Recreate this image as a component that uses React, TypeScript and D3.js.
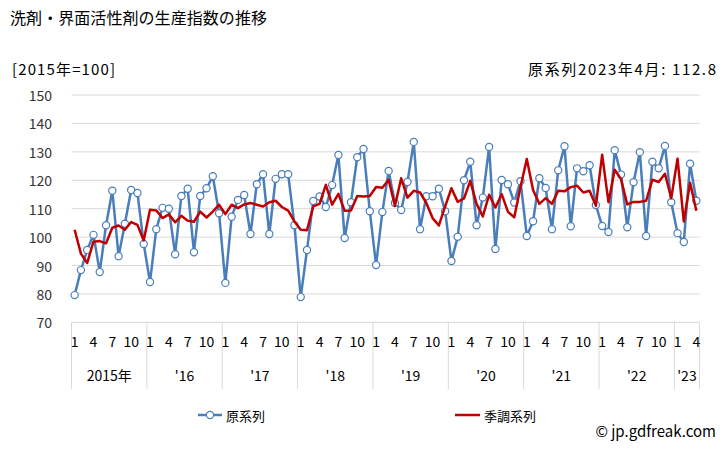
import React from "react";
import * as d3 from "d3";

const rawSeries = [79.6,88.4,95.5,100.8,87.7,104.2,116.3,93.3,104.7,116.6,115.5,97.6,
84.2,102.8,110.3,110.0,94.0,114.5,117.0,94.7,114.5,117.2,121.4,108.4,
83.9,107.2,113.1,114.8,101.1,118.6,122.1,101.1,120.5,122.1,122.1,104.2,
78.9,95.5,112.7,114.3,110.6,118.3,128.9,99.7,112.3,128.1,131.0,109.1,
90.2,108.8,123.3,112.0,109.5,119.4,133.5,102.8,114.4,114.4,117.0,109.1,
91.6,100.1,120.0,126.5,104.2,113.9,131.7,95.8,120.1,118.6,112.2,119.7,
100.4,105.6,120.7,117.3,102.8,123.5,132.0,103.8,124.2,123.2,125.3,111.3,
103.9,101.8,130.6,122.0,103.5,119.3,129.9,100.4,126.5,124.2,132.1,112.3,
101.4,98.3,125.8,112.8];

const saSeries = [102.6,94.2,90.9,98.4,98.6,97.8,103.3,104.1,102.6,105.3,104.3,98.8,
109.6,109.4,106.7,108.0,105.2,107.5,105.8,105.4,109.0,106.9,109.0,111.4,
108.1,111.4,110.2,111.5,112.0,111.4,110.8,112.3,112.8,110.6,109.3,105.5,
102.6,102.4,110.8,111.7,118.4,111.4,115.2,109.3,109.4,114.5,114.3,114.5,
117.6,117.4,120.2,111.0,120.7,113.9,116.3,115.7,112.0,106.7,104.1,110.8,
117.2,112.4,113.6,119.8,111.7,107.3,114.9,110.4,115.1,108.9,107.0,117.6,
127.5,116.6,111.7,113.7,111.7,116.3,116.1,117.6,118.1,115.7,116.3,111.0,
129.0,112.3,123.7,120.4,111.5,112.4,112.4,112.8,120.2,119.4,122.3,113.7,
127.6,105.5,119.1,109.3];

const yearLabels = ["2015年", "'16", "'17", "'18", "'19", "'20", "'21", "'22", "'23"];
const monthTicks = [1, 4, 7, 10];
const yTicks = [70, 80, 90, 100, 110, 120, 130, 140, 150];

const FONT = "'Noto Sans CJK JP', 'Noto Sans', sans-serif";
const BLUE = "#4a7ebb";
const RED = "#c00000";
const GRID = "#d9d9d9";

export default function App() {
  const W = 728, H = 450;
  const left = 71.5, right = 699.5, top = 95, bottom = 322.4;
  const idx = rawSeries.map((_, i) => i);
  const x = d3.scaleBand<number>().domain(idx).range([left, right]);
  const bw = x.bandwidth();
  const cx = (i: number) => (x(i) as number) + bw / 2;
  const y = d3.scaleLinear().domain([70, 150]).range([bottom, top]);
  const line = d3.line<number>().x((_, i) => cx(i)).y((d) => y(d));

  const years = yearLabels.map((label, k) => {
    const start = k * 12;
    const end = Math.min(start + 12, rawSeries.length);
    const x0 = x(start) as number;
    const x1 = end >= rawSeries.length ? right : (x(end) as number);
    return { label, start, end, x0, x1 };
  });

  return (
    <svg width={W} height={H} style={{ position: "absolute", left: 0, top: 0, fontFamily: FONT }}>
      <rect width={W} height={H} fill="#fff" />
      <text x={10} y={24} fontSize={16} fill="#000" textLength={257} lengthAdjust="spacing">洗剤・界面活性剤の生産指数の推移</text>
      <text x={12} y={75} fontSize={15} fill="#000" textLength={103} lengthAdjust="spacing">[2015年=100]</text>
      <text x={528} y={75} fontSize={15} fill="#000" textLength={188} lengthAdjust="spacing">原系列2023年4月: 112.8</text>

      {yTicks.map((t) => (
        <g key={t}>
          <line x1={left} x2={right} y1={y(t)} y2={y(t)} stroke={GRID} strokeWidth={1} />
          <text x={52} y={y(t)} fontSize={14} textAnchor="end" dominantBaseline="central" fill="#333">{t}</text>
        </g>
      ))}

      {years.map((yr) => (
        <line key={"s" + yr.label} x1={yr.x0} x2={yr.x0} y1={bottom} y2={389} stroke={GRID} strokeWidth={1} />
      ))}
      <line x1={right} x2={right} y1={bottom} y2={389} stroke={GRID} strokeWidth={1} />

      {idx.filter((i) => monthTicks.includes((i % 12) + 1)).map((i) => (
        <text key={"m" + i} x={cx(i)} y={341} fontSize={14} textAnchor="middle" dominantBaseline="central" fill="#000">
          {(i % 12) + 1}
        </text>
      ))}
      {years.map((yr) => (
        <text key={"y" + yr.label} x={(yr.x0 + yr.x1) / 2} y={375} fontSize={14} textAnchor="middle" dominantBaseline="central" fill="#000">
          {yr.label}
        </text>
      ))}

      <path d={line(rawSeries) || ""} fill="none" stroke={BLUE} strokeWidth={2.5} strokeLinejoin="round" />
      {rawSeries.map((v, i) => (
        <circle key={"c" + i} cx={cx(i)} cy={y(v)} r={3.6} fill="#fff" stroke={BLUE} strokeWidth={1.2} />
      ))}
      <path d={line(saSeries) || ""} fill="none" stroke={RED} strokeWidth={2.5} strokeLinejoin="round" />

      <g>
        <line x1={198} x2={222} y1={415} y2={415} stroke={BLUE} strokeWidth={2.5} />
        <circle cx={210} cy={415} r={3.6} fill="#fff" stroke={BLUE} strokeWidth={1.2} />
        <text x={226} y={415} fontSize={13} dominantBaseline="central" fill="#000">原系列</text>
        <line x1={455} x2={480} y1={415} y2={415} stroke={RED} strokeWidth={2.5} />
        <text x={484} y={415} fontSize={13} dominantBaseline="central" fill="#000">季調系列</text>
      </g>
      <text x={716} y={430} fontSize={15} textAnchor="end" dominantBaseline="central" fill="#000">© jp.gdfreak.com</text>
    </svg>
  );
}
